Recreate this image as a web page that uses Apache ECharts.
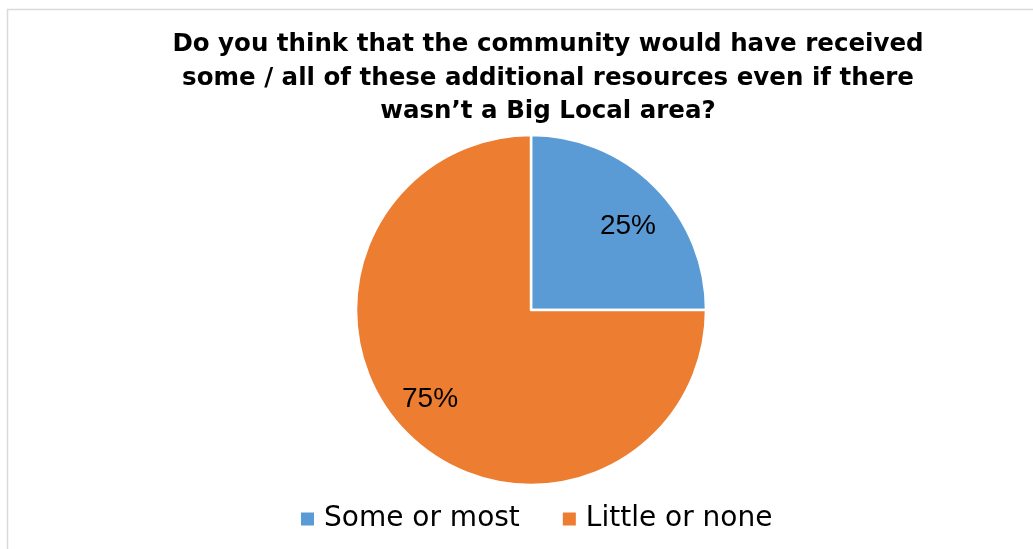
<!DOCTYPE html>
<html>
<head>
<meta charset="utf-8">
<script src="https://cdn.jsdelivr.net/npm/echarts@6/dist/echarts.min.js"></script>
<style>
html,body{margin:0;padding:0;background:#fff;}
#chart{width:1033px;height:549px;}
</style>
</head>
<body>
<div id="chart"></div>
<script>
const titleText = 'Do you think that the community would have received\nsome / all of these additional resources even if there\nwasn\u2019t a Big Local area?';
const categories = ['Some or most', 'Little or none'];
const values = [25, 75];
const colors = ['#5b9bd5', '#ed7d31'];

const chart = echarts.init(document.getElementById('chart'));
const labelShift = [[33, -20], [-37, 25]];
chart.setOption({
  animation: false,
  graphic: [{
    type: 'rect',
    shape: {x: 7.5, y: 9.5, width: 1100, height: 600},
    style: {fill: 'none', stroke: '#d9d9d9', lineWidth: 1.5},
    silent: true
  }],
  title: {
    text: titleText,
    left: 543,
    top: 23,
    textAlign: 'center',
    textStyle: {
      fontFamily: 'DejaVu Sans',
      fontWeight: 'bold',
      fontSize: 24.5,
      lineHeight: 33.5,
      color: '#000'
    }
  },
  legend: {
    data: categories,
    top: 504,
    left: 299,
    padding: 0,
    icon: 'rect',
    itemWidth: 15,
    itemHeight: 15,
    itemGap: 41,
    textStyle: {
      fontFamily: 'DejaVu Sans',
      fontSize: 28,
      lineHeight: 30,
      padding: [0, 0, 0, 4],
      color: '#000'
    }
  },
  series: [{
    type: 'pie',
    center: [531, 310],
    radius: [0, 175],
    startAngle: 90,
    clockwise: true,
    color: colors,
    itemStyle: {borderColor: '#fff', borderWidth: 2.5},
    label: {
      show: true,
      position: 'inside',
      formatter: '{d}%',
      fontFamily: 'Liberation Sans, Arial, sans-serif',
      fontSize: 28,
      color: '#000'
    },
    labelLayout: function (p) {
      const s = labelShift[p.dataIndex] || [0, 0];
      return {dx: s[0], dy: s[1]};
    },
    emphasis: {disabled: true},
    data: categories.map((c, i) => ({name: c, value: values[i]}))
  }]
});
</script>
</body>
</html>
